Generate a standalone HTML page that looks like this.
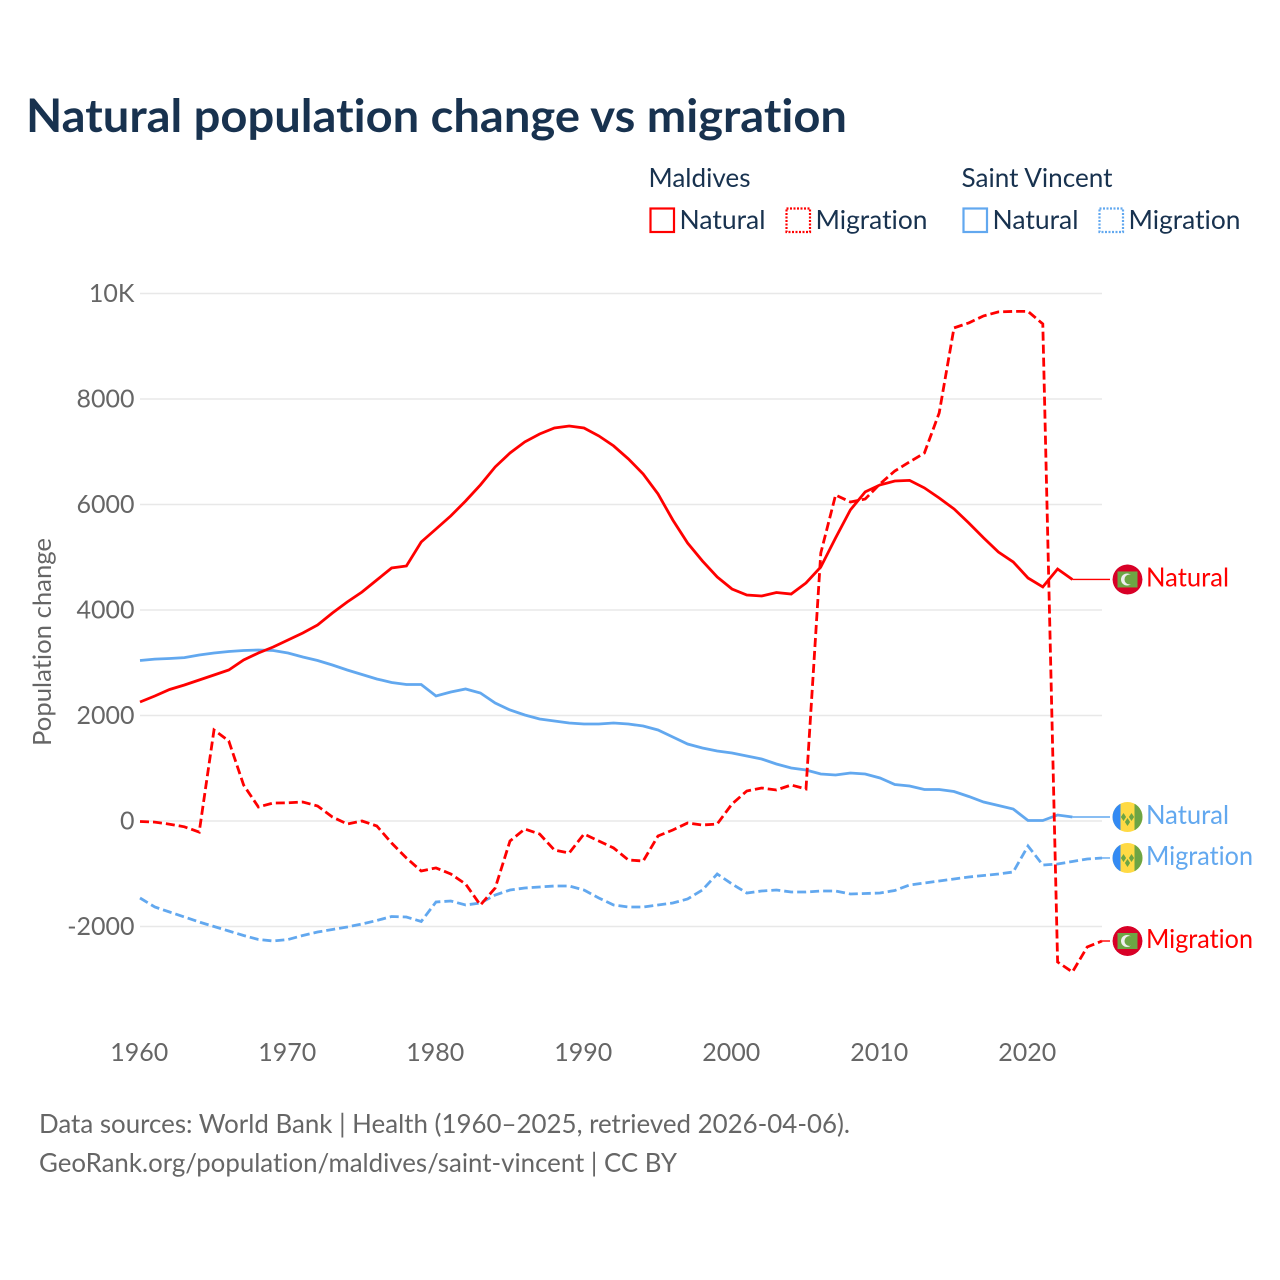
<!DOCTYPE html>
<html lang="en">
<head>
<meta charset="utf-8">
<title>Natural population change vs migration</title>
<style>
html,body{margin:0;padding:0;background:#fff;width:1280px;height:1280px;overflow:hidden}
svg{display:block}
text{font-family:"Lato","Carlito","Liberation Sans",sans-serif;font-variant-ligatures:none}
.dark{fill:#18324f}
.gray{fill:#666}
</style>
</head>
<body>
<svg id="chart" xmlns="http://www.w3.org/2000/svg" width="1280" height="1280" viewBox="0 0 1280 1280">
  <rect x="0" y="0" width="1280" height="1280" fill="#fff"/>
  <text class="dark" x="26" y="132" font-size="46" font-weight="700" textLength="821" lengthAdjust="spacingAndGlyphs">Natural population change vs migration</text>

  <g>
    <text class="dark" x="648.5" y="187" font-size="26" textLength="102" lengthAdjust="spacingAndGlyphs">Maldives</text>
    <rect x="650.5" y="208.5" width="23.5" height="23.5" fill="none" stroke="#ff0000" stroke-width="2.2"/>
    <text class="dark" x="679.5" y="229" font-size="26" textLength="86" lengthAdjust="spacingAndGlyphs">Natural</text>
    <rect x="786.5" y="208.5" width="23.5" height="23.5" fill="none" stroke="#ff0000" stroke-width="2.2" stroke-dasharray="2 1.5"/>
    <text class="dark" x="815.5" y="229" font-size="26" textLength="112" lengthAdjust="spacingAndGlyphs">Migration</text>
    <text class="dark" x="961.5" y="187" font-size="26" textLength="151" lengthAdjust="spacingAndGlyphs">Saint Vincent</text>
    <rect x="963.5" y="208.5" width="23.5" height="23.5" fill="none" stroke="#62a8ef" stroke-width="2.2"/>
    <text class="dark" x="992.5" y="229" font-size="26" textLength="86" lengthAdjust="spacingAndGlyphs">Natural</text>
    <rect x="1099.5" y="208.5" width="23.5" height="23.5" fill="none" stroke="#62a8ef" stroke-width="2.2" stroke-dasharray="2 1.5"/>
    <text class="dark" x="1128.5" y="229" font-size="26" textLength="112" lengthAdjust="spacingAndGlyphs">Migration</text>
  </g>

  <g id="grid"></g>
  <g id="yticks"></g>
  <g id="xticks"></g>
  <text class="gray" transform="translate(51 642) rotate(-90)" text-anchor="middle" font-size="25" textLength="208" lengthAdjust="spacingAndGlyphs">Population change</text>
  <g id="series"></g>
  <g id="labels"></g>

  <text class="gray" x="39" y="1133" font-size="26" textLength="811" lengthAdjust="spacingAndGlyphs">Data sources: World Bank | Health (1960–2025, retrieved 2026-04-06).</text>
  <text class="gray" x="39" y="1172" font-size="26" textLength="638" lengthAdjust="spacingAndGlyphs">GeoRank.org/population/maldives/saint-vincent | CC BY</text>
</svg>
<script>
const startYear = 1960;
const xTickYears = [1960, 1970, 1980, 1990, 2000, 2010, 2020];
const yTickValues = [-2000, 0, 2000, 4000, 6000, 8000, 10000];
const yTickLabels = ['-2000', '0', '2000', '4000', '6000', '8000', '10K'];

const maldivesNatural = [2256,2370,2493,2578,2673,2768,2863,3052,3185,3299,3432,3564,3716,3944,4152,4342,4569,4797,4835,5290,5536,5783,6067,6371,6712,6977,7186,7337,7451,7489,7451,7300,7110,6864,6579,6200,5707,5271,4930,4626,4399,4285,4266,4332,4304,4512,4816,5366,5897,6238,6371,6446,6456,6314,6124,5916,5650,5366,5100,4911,4607,4437,4778,4579];
const maldivesMigration = [-10,-20,-60,-110,-210,1725,1517,683,265,341,345,360,284,76,-57,0,-95,-417,-702,-948,-890,-1005,-1194,-1593,-1270,-379,-152,-246,-550,-607,-246,-379,-512,-739,-758,-284,-171,-38,-76,-57,322,569,626,588,683,607,5081,6181,6048,6105,6390,6636,6807,6977,7736,9347,9442,9575,9651,9660,9660,9423,-2673,-2863,-2389,-2275];
const vincentNatural = [3043,3070,3080,3098,3147,3185,3214,3233,3242,3233,3185,3109,3043,2958,2863,2778,2692,2626,2588,2588,2370,2446,2503,2427,2237,2105,2010,1934,1896,1858,1839,1839,1858,1839,1801,1725,1593,1460,1384,1327,1289,1232,1175,1081,1005,967,891,872,910,891,815,692,664,597,597,559,465,360,294,228,10,10,114,76];
const vincentMigration = [-1460,-1630,-1725,-1820,-1915,-2000,-2085,-2170,-2247,-2275,-2247,-2170,-2105,-2057,-2010,-1953,-1886,-1810,-1820,-1905,-1536,-1517,-1593,-1555,-1403,-1308,-1270,-1251,-1232,-1232,-1308,-1460,-1593,-1630,-1630,-1593,-1555,-1479,-1308,-1005,-1194,-1365,-1327,-1308,-1346,-1346,-1327,-1327,-1384,-1375,-1365,-1318,-1213,-1175,-1137,-1100,-1062,-1033,-1005,-967,-474,-834,-815,-768,-720,-701];

const NS = 'http://www.w3.org/2000/svg';
const RED = '#ff0000';
const BLUE = '#62a8ef';
const LABEL_X = 1110;

function xScale(year) { return 140 + (year - 1960) * 14.8; }
function yScale(value) { return 821 - value * 0.05275; }

function svgEl(tag, parent, attrs) {
  const el = document.createElementNS(NS, tag);
  Object.keys(attrs).forEach(function (k) { el.setAttribute(k, attrs[k]); });
  parent.appendChild(el);
  return el;
}

const gridG = document.getElementById('grid');
const yTicksG = document.getElementById('yticks');
yTickValues.forEach(function (v, i) {
  const line = svgEl('line', gridG, { x1: 140, x2: 1102, y1: yScale(v), y2: yScale(v), stroke: '#e8e8e8', 'stroke-width': 1.5 });
  
  
  const t = svgEl('text', yTicksG, { x: 134.5, y: yScale(v) + 8.5, 'text-anchor': 'end', 'font-size': 25, class: 'gray' });
  t.textContent = yTickLabels[i];
  
  
});

const xTicksG = document.getElementById('xticks');
xTickYears.forEach(function (yr) {
  const t = svgEl('text', xTicksG, { x: xScale(yr) - 0.7, y: 1061, 'text-anchor': 'middle', 'font-size': 25, class: 'gray' });
  t.textContent = String(yr);
  
  
});

function drawSeries(values, color, dashed, name) {
  const g = document.getElementById('series');
  const pts = values.map(function (v, i) { return xScale(startYear + i).toFixed(1) + ',' + yScale(v).toFixed(1); });
  const line = svgEl('polyline', g, { points: pts.join(' '), fill: 'none', stroke: color, 'stroke-width': 2.8, 'stroke-linejoin': 'miter' });
  if (dashed) line.setAttribute('stroke-dasharray', '9 4');
  
  
  const last = values[values.length - 1];
  const lastX = xScale(startYear + values.length - 1);
  const conn = svgEl('line', g, { x1: lastX, x2: LABEL_X, y1: yScale(last), y2: yScale(last), stroke: color, 'stroke-width': 1.4 });
  
  
}

function clipCircle(id, cy) {
  const cp = svgEl('clipPath', document.getElementById('labels'), { id: id });
  svgEl('circle', cp, { cx: 1127.5, cy: cy, r: 15 });
}

function drawMaldivesFlag(cy, id) {
  clipCircle(id, cy);
  const g = svgEl('g', document.getElementById('labels'), { 'clip-path': 'url(#' + id + ')' });
  
  
  svgEl('circle', g, { cx: 1127.5, cy: cy, r: 15, fill: '#d80027' });
  svgEl('rect', g, { x: 1117.5, y: cy - 8, width: 20, height: 16, fill: '#6da544' });
  svgEl('circle', g, { cx: 1127, cy: cy, r: 6, fill: '#eee' });
  svgEl('circle', g, { cx: 1129.5, cy: cy, r: 5, fill: '#6da544' });
}

function diamond(g, cx, cy, w, h) {
  svgEl('polygon', g, { points: cx + ',' + (cy - h) + ' ' + (cx + w) + ',' + cy + ' ' + cx + ',' + (cy + h) + ' ' + (cx - w) + ',' + cy, fill: '#6da544' });
}

function drawVincentFlag(cy, id) {
  clipCircle(id, cy);
  const g = svgEl('g', document.getElementById('labels'), { 'clip-path': 'url(#' + id + ')' });
  
  
  svgEl('rect', g, { x: 1112.5, y: cy - 15, width: 30, height: 30, fill: '#ffda44' });
  svgEl('rect', g, { x: 1112.5, y: cy - 15, width: 8, height: 30, fill: '#338af3' });
  svgEl('rect', g, { x: 1134.5, y: cy - 15, width: 8, height: 30, fill: '#6da544' });
  diamond(g, 1123.5, cy, 2.6, 4);
  diamond(g, 1131.5, cy, 2.6, 4);
  diamond(g, 1127.5, cy + 5, 2.6, 4);
}

function drawLabel(cy, text, color, name) {
  const t = svgEl('text', document.getElementById('labels'), { x: 1146, y: cy + 7, 'font-size': 26, fill: color, textLength: text === 'Natural' ? 83 : 107, lengthAdjust: 'spacingAndGlyphs' });
  t.textContent = text;
  
  
}

drawSeries(vincentNatural, BLUE, false, 'saint-vincent-natural');
drawSeries(vincentMigration, BLUE, true, 'saint-vincent-migration');
drawSeries(maldivesNatural, RED, false, 'maldives-natural');
drawSeries(maldivesMigration, RED, true, 'maldives-migration');

const yMN = yScale(maldivesNatural[maldivesNatural.length - 1]);
const yMM = yScale(maldivesMigration[maldivesMigration.length - 1]);
const ySN = yScale(vincentNatural[vincentNatural.length - 1]);
const ySM = yScale(vincentMigration[vincentMigration.length - 1]);

drawMaldivesFlag(yMN, 'clip-mn');
drawLabel(yMN, 'Natural', RED, 'label-maldives-natural');
drawVincentFlag(ySN, 'clip-sn');
drawLabel(ySN, 'Natural', BLUE, 'label-saint-vincent-natural');
drawVincentFlag(ySM, 'clip-sm');
drawLabel(ySM, 'Migration', BLUE, 'label-saint-vincent-migration');
drawMaldivesFlag(yMM, 'clip-mm');
drawLabel(yMM, 'Migration', RED, 'label-maldives-migration');
</script>
</body>
</html>
